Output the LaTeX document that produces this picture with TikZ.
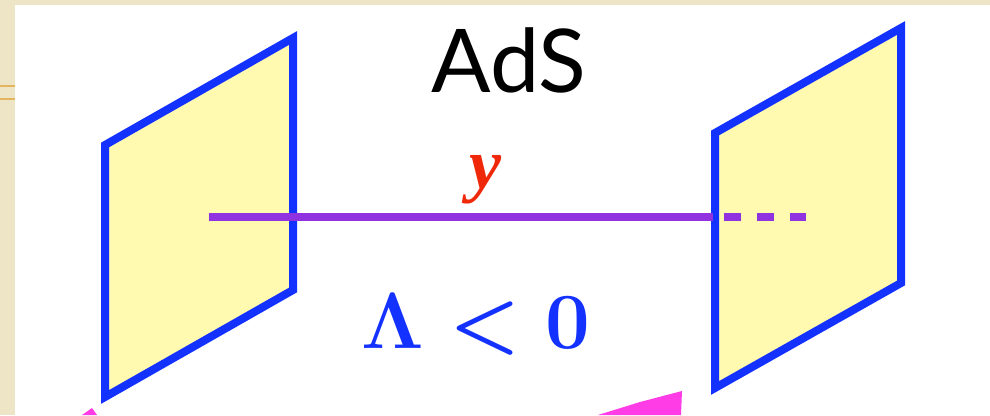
\documentclass[tikz,border=0pt]{standalone}
\usepackage{fontspec}
\newfontfamily\adsfont{Lato}
\newfontfamily\yfont{Liberation Serif}
\definecolor{parch}{RGB}{238,228,198}
\definecolor{rulecol}{RGB}{228,180,95}
\definecolor{panelfill}{RGB}{255,250,175}
\definecolor{panelblue}{RGB}{20,50,255}
\definecolor{linepurple}{RGB}{145,50,225}
\definecolor{yred}{RGB}{240,40,10}
\definecolor{pinkfrag}{RGB}{255,60,230}
\tikzset{
  panel/.style={draw=panelblue, fill=panelfill, line width=6pt, line join=miter},
  bulk/.style={draw=linepurple, line width=6pt},
  bulkdash/.style={draw=linepurple, line width=6pt, dash pattern=on 12.75pt off 12pt},
}
\newcommand{\lamtext}{$\Lambda<0$}
\begin{document}
\begin{tikzpicture}[x=0.75pt,y=-0.75pt]
\useasboundingbox (0,0) rectangle (990,415);
\fill[parch] (0,0) rectangle (990,415);
\fill[white] (15,5) rectangle (990,415);
\draw[rulecol, line width=2.2pt] (0,86) -- (15,86);
\draw[rulecol, line width=2.2pt] (0,99) -- (15,99);
% pink fragments at the bottom
\fill[pinkfrag] (82,415) -- (92,408) -- (97,415) -- cycle;
\fill[pinkfrag] (598,415) -- (640,402) -- (682,391) -- (681,415) -- cycle;
% branes
\draw[panel] (105,145) -- (293,38) -- (293,290) -- (105,397) -- cycle;
\draw[panel] (715,133) -- (901,28) -- (901,283) -- (715,388) -- cycle;
% bulk line
\coordinate (ls) at (209,217);
\coordinate (le) at (713,217);
\coordinate (ds) at (724,217);
\coordinate (de) at (806,217);
\draw[bulk] (ls) -- (le);
\draw[bulkdash] (ds) -- (de);
% labels
\node[anchor=base, inner sep=0pt, font={\adsfont\fontsize{66}{66}\selectfont}] (ads) at (509,92) {AdS};
\node[anchor=base, inner sep=0pt, text=yred, font={\yfont\bfseries\itshape\fontsize{54}{54}\selectfont}] (ylab) at (485,188) {y};
\node[anchor=base, inner sep=0pt, text=panelblue, scale=2.4, font={\fontsize{24.88}{25}\selectfont\boldmath}] (lambda) at (476,348) {\lamtext};
\end{tikzpicture}
\end{document}
